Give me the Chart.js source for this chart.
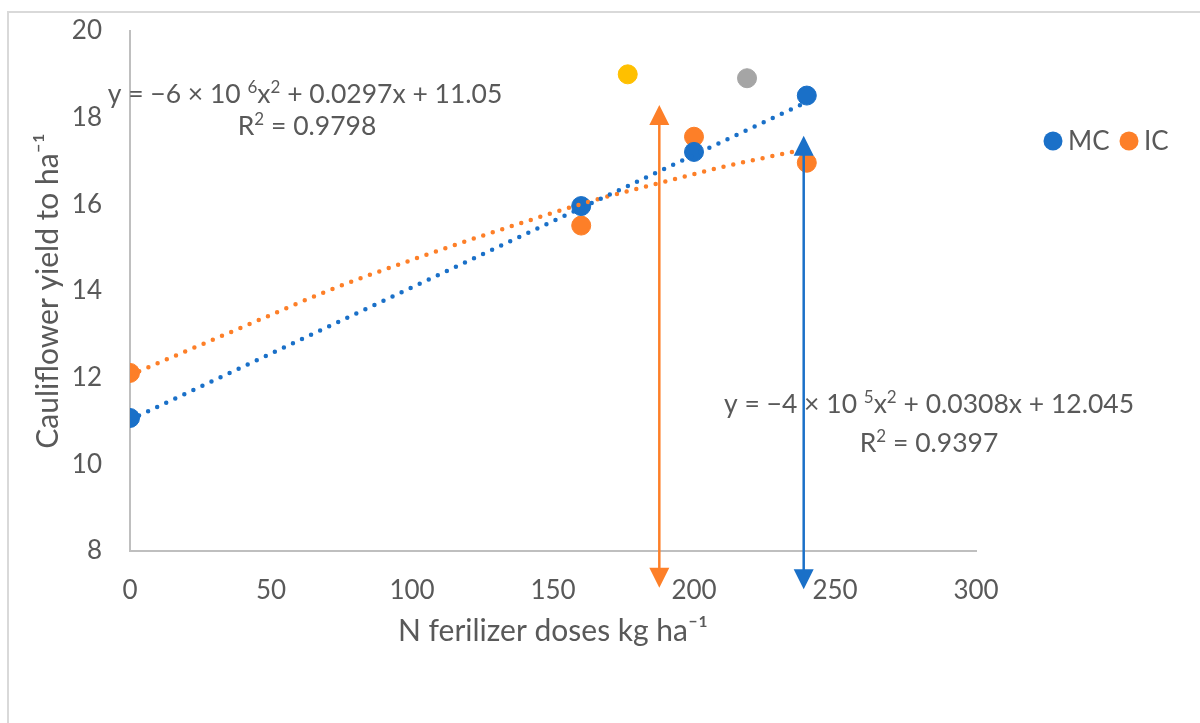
<!DOCTYPE html>
<html><head><meta charset="utf-8">
<script src="https://cdn.jsdelivr.net/npm/chart.js@4"></script>
<style>html,body{margin:0;padding:0;background:#fff}canvas{display:block}</style>
</head><body>
<canvas id="c" width="1200" height="723"></canvas>
<script>
// ---- data ----
const doses = [0, 160, 200, 240];
const mcYield = [11.07, 15.96, 17.21, 18.51];
const icYield = [12.11, 15.51, 17.56, 16.96];
const yellowX = [176.5];
const yellowY = [19.0];
const grayX = [218.8];
const grayY = [18.91];
const mcTrendX = [0, 240];
const mcTrendY = [11.03, 18.36];
const icTrendX = [0, 40, 70, 100, 135, 165, 190, 210, 240];
const icTrendY = [12.06, 13.17, 14.0, 14.72, 15.49, 16.1, 16.53, 16.86, 17.28];
const arrowX = [187.7, 238.9];
const arrowTop = [18.29, 17.58];
const arrowBottom = [7.15, 7.12];
const xTicks = [0, 50, 100, 150, 200, 250, 300];
const yTicks = [8, 10, 12, 14, 16, 18, 20];
const seriesNames = ['MC', 'IC'];

const BLUE = '#1A70C8', ORANGE = '#FD7F28', YELLOW = '#FFC000', GRAY = '#A5A5A5', TXT = '#595959';
const FONT = 'Lato, "Open Sans", sans-serif';

const pts = (xs, ys) => xs.map((x, i) => ({x: x, y: ys[i]}));

function drawRich(ctx, segs, cx, baseline, size) {
  const base = size + 'px ' + FONT, sup = Math.round(size * 0.64) + 'px ' + FONT;
  let total = 0;
  segs.forEach(s => { ctx.font = s[1] ? sup : base; total += ctx.measureText(s[0]).width; });
  let x = cx - total / 2;
  ctx.fillStyle = TXT; ctx.textBaseline = 'alphabetic'; ctx.textAlign = 'left';
  segs.forEach(s => {
    ctx.font = s[1] ? sup : base;
    ctx.fillText(s[0], x, s[1] ? baseline - size * 0.36 : baseline);
    x += ctx.measureText(s[0]).width;
  });
}

const decor = {
  id: 'decor',
  beforeDraw(chart) {
    const ctx = chart.ctx;
    ctx.save();
    ctx.fillStyle = '#fff'; ctx.fillRect(0, 0, chart.width, chart.height);
    ctx.strokeStyle = '#D9D9D9'; ctx.lineWidth = 2;
    ctx.beginPath(); ctx.moveTo(8, 723); ctx.lineTo(8, 12); ctx.lineTo(1200, 12); ctx.stroke();
    ctx.restore();
  },
  afterDatasetsDraw(chart) {
    const ctx = chart.ctx, xs = chart.scales.x, ys = chart.scales.y;
    const cols = [ORANGE, BLUE];
    ctx.save();
    arrowX.forEach((ax, i) => {
      const px = xs.getPixelForValue(ax), t = ys.getPixelForValue(arrowTop[i]), b = ys.getPixelForValue(arrowBottom[i]);
      ctx.strokeStyle = cols[i]; ctx.fillStyle = cols[i]; ctx.lineWidth = 2.5;
      ctx.beginPath(); ctx.moveTo(px, t + 18); ctx.lineTo(px, b - 18); ctx.stroke();
      ctx.beginPath(); ctx.moveTo(px, t); ctx.lineTo(px - 10, t + 20); ctx.lineTo(px + 10, t + 20); ctx.closePath(); ctx.fill();
      ctx.beginPath(); ctx.moveTo(px, b); ctx.lineTo(px - 10, b - 20); ctx.lineTo(px + 10, b - 20); ctx.closePath(); ctx.fill();
    });
    // trendline equations
    drawRich(ctx, [['y = \u22126 \u00d7 10 ', 0], ['6', 1], ['x', 0], ['2', 1], [' + 0.0297x + 11.05', 0]], 305, 103, 26.5);
    drawRich(ctx, [['R', 0], ['2', 1], [' = 0.9798', 0]], 307, 135, 26.5);
    drawRich(ctx, [['y = \u22124 \u00d7 10 ', 0], ['5', 1], ['x', 0], ['2', 1], [' + 0.0308x + 12.045', 0]], 929, 413, 26.5);
    drawRich(ctx, [['R', 0], ['2', 1], [' = 0.9397', 0]], 929, 452, 26.5);
    // legend
    const ca = chart.chartArea;
    let lx = ca.right + 77;
    const ly = 141;
    ctx.font = '26px ' + FONT; ctx.textBaseline = 'middle'; ctx.textAlign = 'left';
    [BLUE, ORANGE].forEach((c, i) => {
      ctx.fillStyle = c; ctx.beginPath(); ctx.arc(lx, ly, 9.5, 0, Math.PI * 2); ctx.fill();
      ctx.fillStyle = TXT; ctx.fillText(seriesNames[i], lx + 15, ly + 1);
      lx += 76;
    });
    ctx.restore();
  }
};

const dotted = {showLine: true, pointRadius: 0, borderWidth: 4.5, borderDash: [0, 10], borderCapStyle: 'round', fill: false, order: 0};

new Chart(document.getElementById('c'), {
  type: 'scatter',
  data: {
    datasets: [
      Object.assign({label: 'MC trend', data: pts(mcTrendX, mcTrendY), borderColor: BLUE}, dotted),
      Object.assign({label: 'IC trend', data: pts(icTrendX, icTrendY), borderColor: ORANGE, cubicInterpolationMode: 'monotone'}, dotted),
      {label: seriesNames[0], data: pts(doses, mcYield), backgroundColor: BLUE, borderColor: BLUE, pointRadius: 9.5, order: 1},
      {label: seriesNames[1], data: pts(doses, icYield), backgroundColor: ORANGE, borderColor: ORANGE, pointRadius: 9.5, order: 2},
      {label: 'extra1', data: pts(yellowX, yellowY), backgroundColor: YELLOW, borderColor: YELLOW, pointRadius: 9.5, order: 3},
      {label: 'extra2', data: pts(grayX, grayY), backgroundColor: GRAY, borderColor: GRAY, pointRadius: 9.5, order: 3}
    ]
  },
  options: {
    responsive: false,
    animation: false,
    events: [],
    layout: {padding: {top: 31, right: 224, left: 0, bottom: 0}},
    plugins: {legend: {display: false}, tooltip: {enabled: false}},
    scales: {
      x: {
        type: 'linear', min: xTicks[0], max: xTicks[xTicks.length - 1],
        afterBuildTicks: s => { s.ticks = xTicks.map(v => ({value: v})); },
        afterFit: s => { s.height = 723 - 551; s.paddingLeft = 0; s.paddingRight = 0; },
        grid: {display: false, drawTicks: false},
        border: {display: true, color: '#BFBFBF', width: 2},
        ticks: {color: TXT, font: {family: FONT, size: 26}, padding: 24},
        title: {display: true, text: 'N ferilizer doses kg ha\u207b\u00b9', color: TXT, font: {family: FONT, size: 30}, padding: {top: 0, bottom: 74}}
      },
      y: {
        type: 'linear', min: yTicks[0], max: yTicks[yTicks.length - 1],
        afterBuildTicks: s => { s.ticks = yTicks.map(v => ({value: v})); },
        afterFit: s => { s.width = 130; s.paddingTop = 0; s.paddingBottom = 0; },
        grid: {display: false, drawTicks: false},
        border: {display: true, color: '#BFBFBF', width: 2},
        ticks: {color: TXT, font: {family: FONT, size: 26}, padding: 28},
        title: {display: true, text: 'Cauliflower yield to ha\u207b\u00b9', color: TXT, font: {family: FONT, size: 30}, padding: {top: 30, bottom: 0}}
      }
    }
  },
  plugins: [decor]
});
</script>
</body></html>
